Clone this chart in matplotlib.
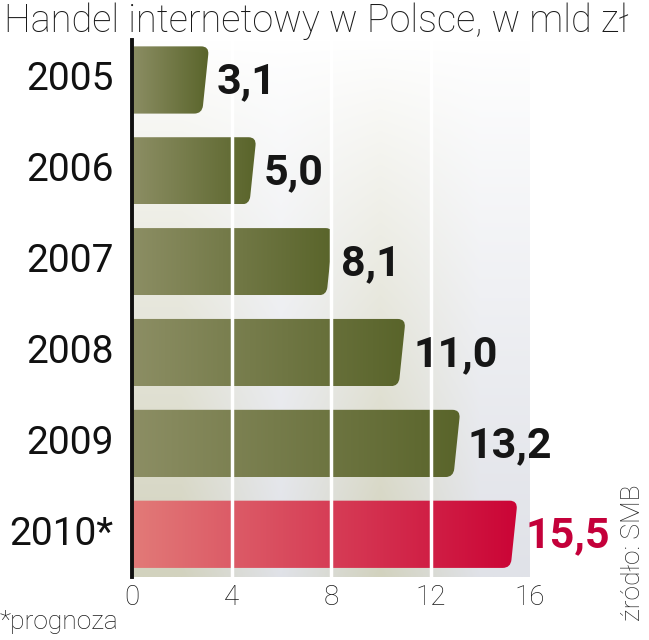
import numpy as np
import matplotlib
matplotlib.use('Agg')
import matplotlib.pyplot as plt
from matplotlib.path import Path
from matplotlib.patches import PathPatch
from matplotlib.colors import to_rgb

years = ['2005', '2006', '2007', '2008', '2009', '2010*']
values = [3.1, 5.0, 8.1, 11.0, 13.2, 15.5]
value_labels = ['3,1', '5,0', '8,1', '11,0', '13,2', '15,5']
xticks = [0, 4, 8, 12, 16]

title = 'Handel internetowy w Polsce, w mld zł'
note = '*prognoza'
source = 'źródło: SMB'

ROBOTO = ['Roboto', 'DejaVu Sans']

olive = ('#8c8e64', '#59642a')
red = ('#e27a78', '#cb0436')
band_colors = ['#d2d2be', '#e0e2e8']


def bar_path(v, y, h=0.74, slant=0.28, rx=0.32, ry=0.09):
    top, bot = y - h / 2, y + h / 2

    def edge_x(yy):
        return v - slant * (yy - top) / h

    verts = [(0, top), (v - rx, top), (v, top), (edge_x(top + ry), top + ry),
             (edge_x(bot - ry), bot - ry), (v - slant, bot),
             (v - slant - rx, bot), (0, bot), (0, top)]
    codes = [Path.MOVETO, Path.LINETO, Path.CURVE3, Path.CURVE3, Path.LINETO,
             Path.CURVE3, Path.CURVE3, Path.LINETO, Path.CLOSEPOLY]
    return Path(verts, codes), top, bot


fig = plt.figure(figsize=(6.49, 6.40), dpi=100)
ax = fig.add_axes([132 / 649, 1 - 577 / 640, 398 / 649, 537 / 640])
ylo, yhi = 5.47, -0.44
ax.set_xlim(0, 16)
ax.set_ylim(ylo, yhi)

# background bands, white at the top, full colour at the bottom
n = 200
t = np.linspace(0, 1, n)[:, None, None] ** 0.9
cols = np.array([to_rgb(band_colors[i % 2]) for i in range(4)])[None, :, :]
bg = (1 - t) * 1.0 + t * cols
ax.imshow(bg, extent=(0, 16, ylo, yhi), aspect='auto', interpolation='bilinear',
          origin='upper', zorder=0)

for i, (v, lab) in enumerate(zip(values, value_labels)):
    c0, c1 = red if i == len(values) - 1 else olive
    path, top, bot = bar_path(v, i)
    patch = PathPatch(path, facecolor='none', edgecolor='none', zorder=2)
    ax.add_patch(patch)
    g = np.linspace(0, 1, 256)[None, :, None]
    grad = (1 - g) * np.array(to_rgb(c0)) + g * np.array(to_rgb(c1))
    im = ax.imshow(grad, extent=(0, v, bot, top), aspect='auto', zorder=2,
                   interpolation='bilinear')
    im.set_clip_path(patch)
    tc = '#c4003a' if i == len(values) - 1 else '#161616'
    ax.text(v + 0.3, i + 0.02, lab, ha='left', va='center', fontsize=31,
            fontweight='bold', color=tc, family=ROBOTO, zorder=4)
    ax.text(-0.75, i, years[i], ha='right', va='center', fontsize=28,
            family=ROBOTO, fontweight='normal', color='#111111')

for x in xticks[1:-1]:
    ax.axvline(x, color='white', lw=2.5, zorder=3)

ax.set_xlim(0, 16)
ax.set_ylim(ylo, yhi)
ax.set_xticks(xticks)
ax.set_xticklabels([str(x) for x in xticks], family=ROBOTO, fontweight='light',
                   fontsize=20, color='#1a1a1a')
ax.set_yticks([])
ax.tick_params(axis='x', length=0, pad=5)
for s in ['top', 'right', 'bottom']:
    ax.spines[s].set_visible(False)
ax.spines['left'].set_linewidth(2.8)
ax.spines['left'].set_color('#111111')
ax.spines['left'].set_zorder(5)

fig.text(0.006, 0.996, title, ha='left', va='top', fontsize=27.3,
         family=ROBOTO, fontweight='light', color='#1a1a1a')
fig.text(0.0, 1 - 622 / 640, note, ha='left', va='center', fontsize=19,
         family=ROBOTO, fontweight='light', color='#1a1a1a')
fig.text(633 / 649, 1 - 553 / 640, source, ha='center', va='center', rotation=90,
         fontsize=19, family=ROBOTO, fontweight='light', color='#2a2a2a')

fig.savefig('out.png', dpi=100)
